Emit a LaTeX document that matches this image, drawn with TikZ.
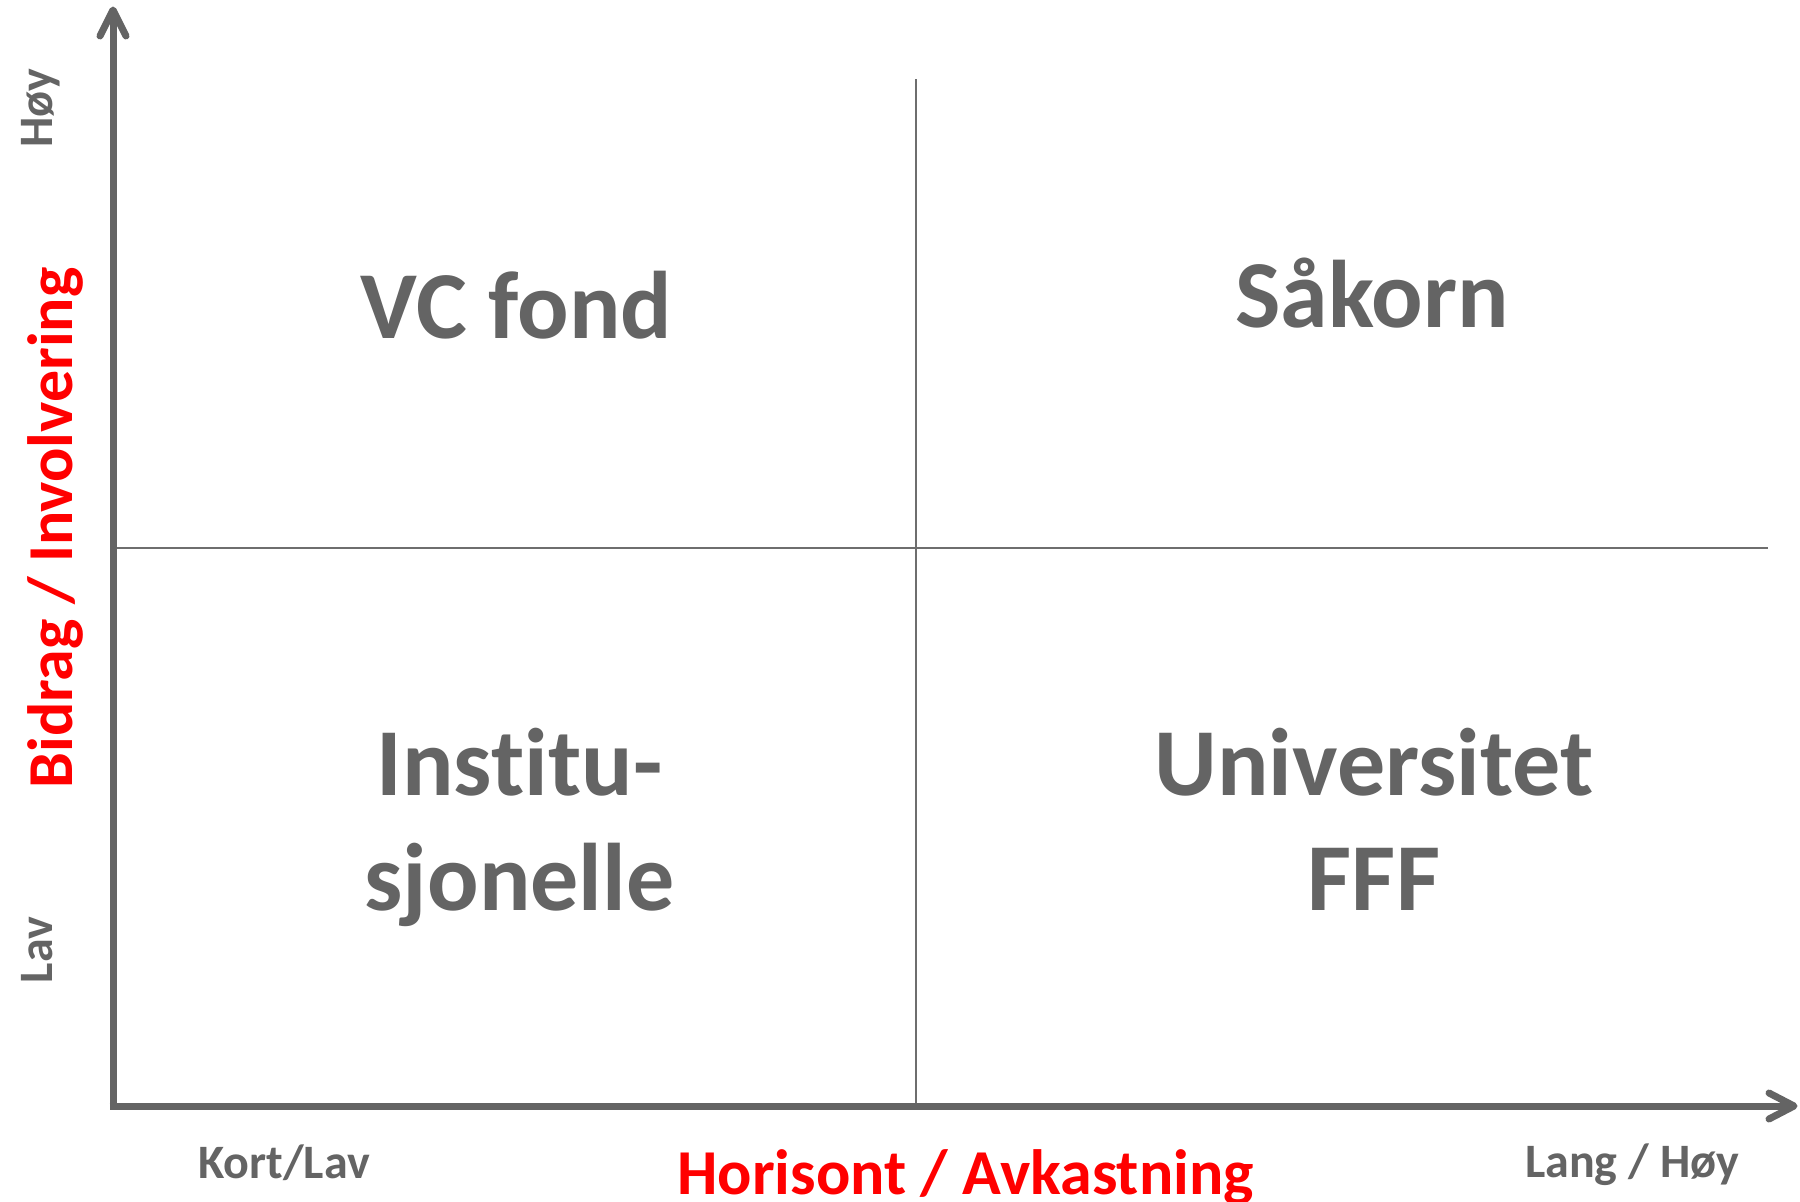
\documentclass[tikz,border=0pt]{standalone}
\usepackage{fontspec}
\setmainfont{Carlito}[Ligatures=NoCommon]
\definecolor{axgray}{HTML}{646464}
\definecolor{lngray}{HTML}{6E6E6E}
\definecolor{lblred}{HTML}{FF0000}
\tikzset{
  axisline/.style={draw=axgray, line width=7pt, line cap=butt},
  tipline/.style={draw=axgray, line width=7pt, line cap=round, line join=round},
  divline/.style={draw=lngray, line width=2pt},
  quadlabel/.style={text=axgray, font=\bfseries\fontsize{96}{115}\selectfont, align=center, inner sep=0pt},
  ticklabel/.style={text=axgray, font=\bfseries\fontsize{48}{58}\selectfont, inner sep=0pt},
  axislabel/.style={text=lblred, font=\bfseries\fontsize{64}{78}\selectfont, inner sep=0pt},
}
\begin{document}
\begin{tikzpicture}[x=1pt,y=-1pt]
\useasboundingbox[fill=white] (0,0) rectangle (1800,1202);
% coordinates
\coordinate (O) at (113,1106);
\coordinate (ytip) at (113,10);
\coordinate (xtip) at (1794,1106);
\coordinate (yl) at (100,36);
\coordinate (yr) at (126,36);
\coordinate (xu) at (1769,1093);
\coordinate (xd) at (1769,1119);
\coordinate (vtop) at (915.5,79);
\coordinate (vbot) at (915.5,1106);
\coordinate (hl) at (116,547.5);
\coordinate (hr) at (1768,547.5);
% dividers
\draw[divline] (vtop) -- (vbot);
\draw[divline] (hl) -- (hr);
% axes
\draw[axisline] (ytip) -- ([yshift=3.5pt]O) ;
\draw[axisline] ([xshift=-3.5pt]O) -- (xtip);
\draw[tipline] (yl) -- (ytip) -- (yr);
\draw[tipline] (xu) -- (xtip) -- (xd);
% quadrant labels
\node[quadlabel, anchor=base] (vc) at (516.5,338) {VC fond};
\node[quadlabel, anchor=base] (sak) at (1372,327) {Såkorn};
\node[quadlabel, anchor=base] (inst) at (519.5,910) {Institu-\\sjonelle};
\node[quadlabel, anchor=base] (univ) at (1374,910) {Universitet\\FFF};
% tick labels
\node[ticklabel, anchor=base] (kort) at (284,1178) {Kort/Lav};
\node[ticklabel, anchor=base] (lang) at (1632,1177) {Lang / Høy};
\node[ticklabel, anchor=base, rotate=90] (hoy) at (52,108) {Høy};
\node[ticklabel, anchor=base, rotate=90] (lav) at (52,950) {Lav};
% axis labels
\node[axislabel, anchor=base] (hor) at (965.5,1194) {Horisont / Avkastning};
\node[axislabel, anchor=base, rotate=90] (bid) at (72,528) {Bidrag / Involvering};
\end{tikzpicture}
\end{document}
